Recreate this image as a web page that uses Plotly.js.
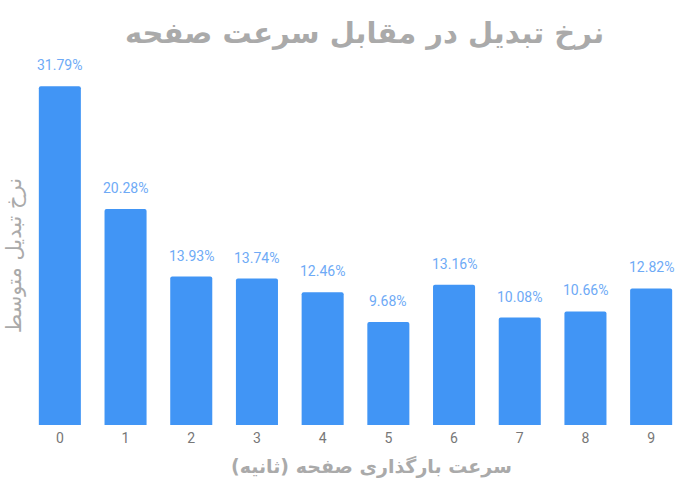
<!DOCTYPE html>
<html><head><meta charset="utf-8">
<script src="https://cdn.plot.ly/plotly-3.0.1.min.js"></script>
<style>html,body{margin:0;padding:0;background:#fff}#chart{width:700px;height:490px}</style>
</head><body><div id="chart"></div>
<script>
const categories = ['0','1','2','3','4','5','6','7','8','9'];
const values = [31.79, 20.28, 13.93, 13.74, 12.46, 9.68, 13.16, 10.08, 10.66, 12.82];
const valueLabels = values.map(v => v.toFixed(2) + '%');
const titleText = 'نرخ تبدیل در مقابل سرعت صفحه';
const xTitleText = 'سرعت بارگذاری صفحه (ثانیه)';
const yTitleText = 'نرخ تبدیل متوسط';

const trace = {
  type: 'bar', x: categories, y: values,
  marker: {color: '#4195f5', cornerradius: 2},
  hoverinfo: 'none'
};
const labelAnns = categories.map((c, i) => ({
  x: c, y: values[i], xref: 'x', yref: 'y', text: valueLabels[i],
  showarrow: false, yanchor: 'bottom', yshift: 11,
  font: {family: 'Roboto, sans-serif', size: 14, color: '#6eaaf6'}
}));
const layout = {
  width: 700, height: 490,
  margin: {l: 27, r: 16, t: 50, b: 65},
  paper_bgcolor: '#fff', plot_bgcolor: '#fff',
  showlegend: false, bargap: 0.36,
  xaxis: {type: 'category', showgrid: false, zeroline: false, showline: false, ticks: '',
          tickfont: {family: 'Roboto, sans-serif', size: 14, color: '#777'}, ticklabelstandoff: 3},
  yaxis: {range: [0, 35.2], showgrid: false, zeroline: false, showline: false, showticklabels: false, ticks: ''},
  annotations: labelAnns.concat([
    {text: '<b>' + titleText + '</b>', xref: 'paper', yref: 'paper', x: 0.513, y: 1, yanchor: 'middle', yshift: 17, xanchor: 'center', showarrow: false,
     font: {family: 'DejaVu Sans, sans-serif', size: 29, color: '#aaaaaa'}},
    {text: '<b>' + xTitleText + '</b>', xref: 'paper', yref: 'paper', x: 0.525, y: 0, yanchor: 'middle', yshift: -41, xanchor: 'center', showarrow: false,
     font: {family: 'DejaVu Sans, sans-serif', size: 19, color: '#aaaaaa'}},
    {text: yTitleText, xref: 'paper', yref: 'paper', x: 0, xshift: -13, y: 0.45, xanchor: 'center', yanchor: 'middle', textangle: -90, showarrow: false,
     font: {family: 'DejaVu Sans, sans-serif', size: 21, color: '#aaaaaa'}}
  ])
};
Plotly.newPlot('chart', [trace], layout, {staticPlot: true});
</script></body></html>
